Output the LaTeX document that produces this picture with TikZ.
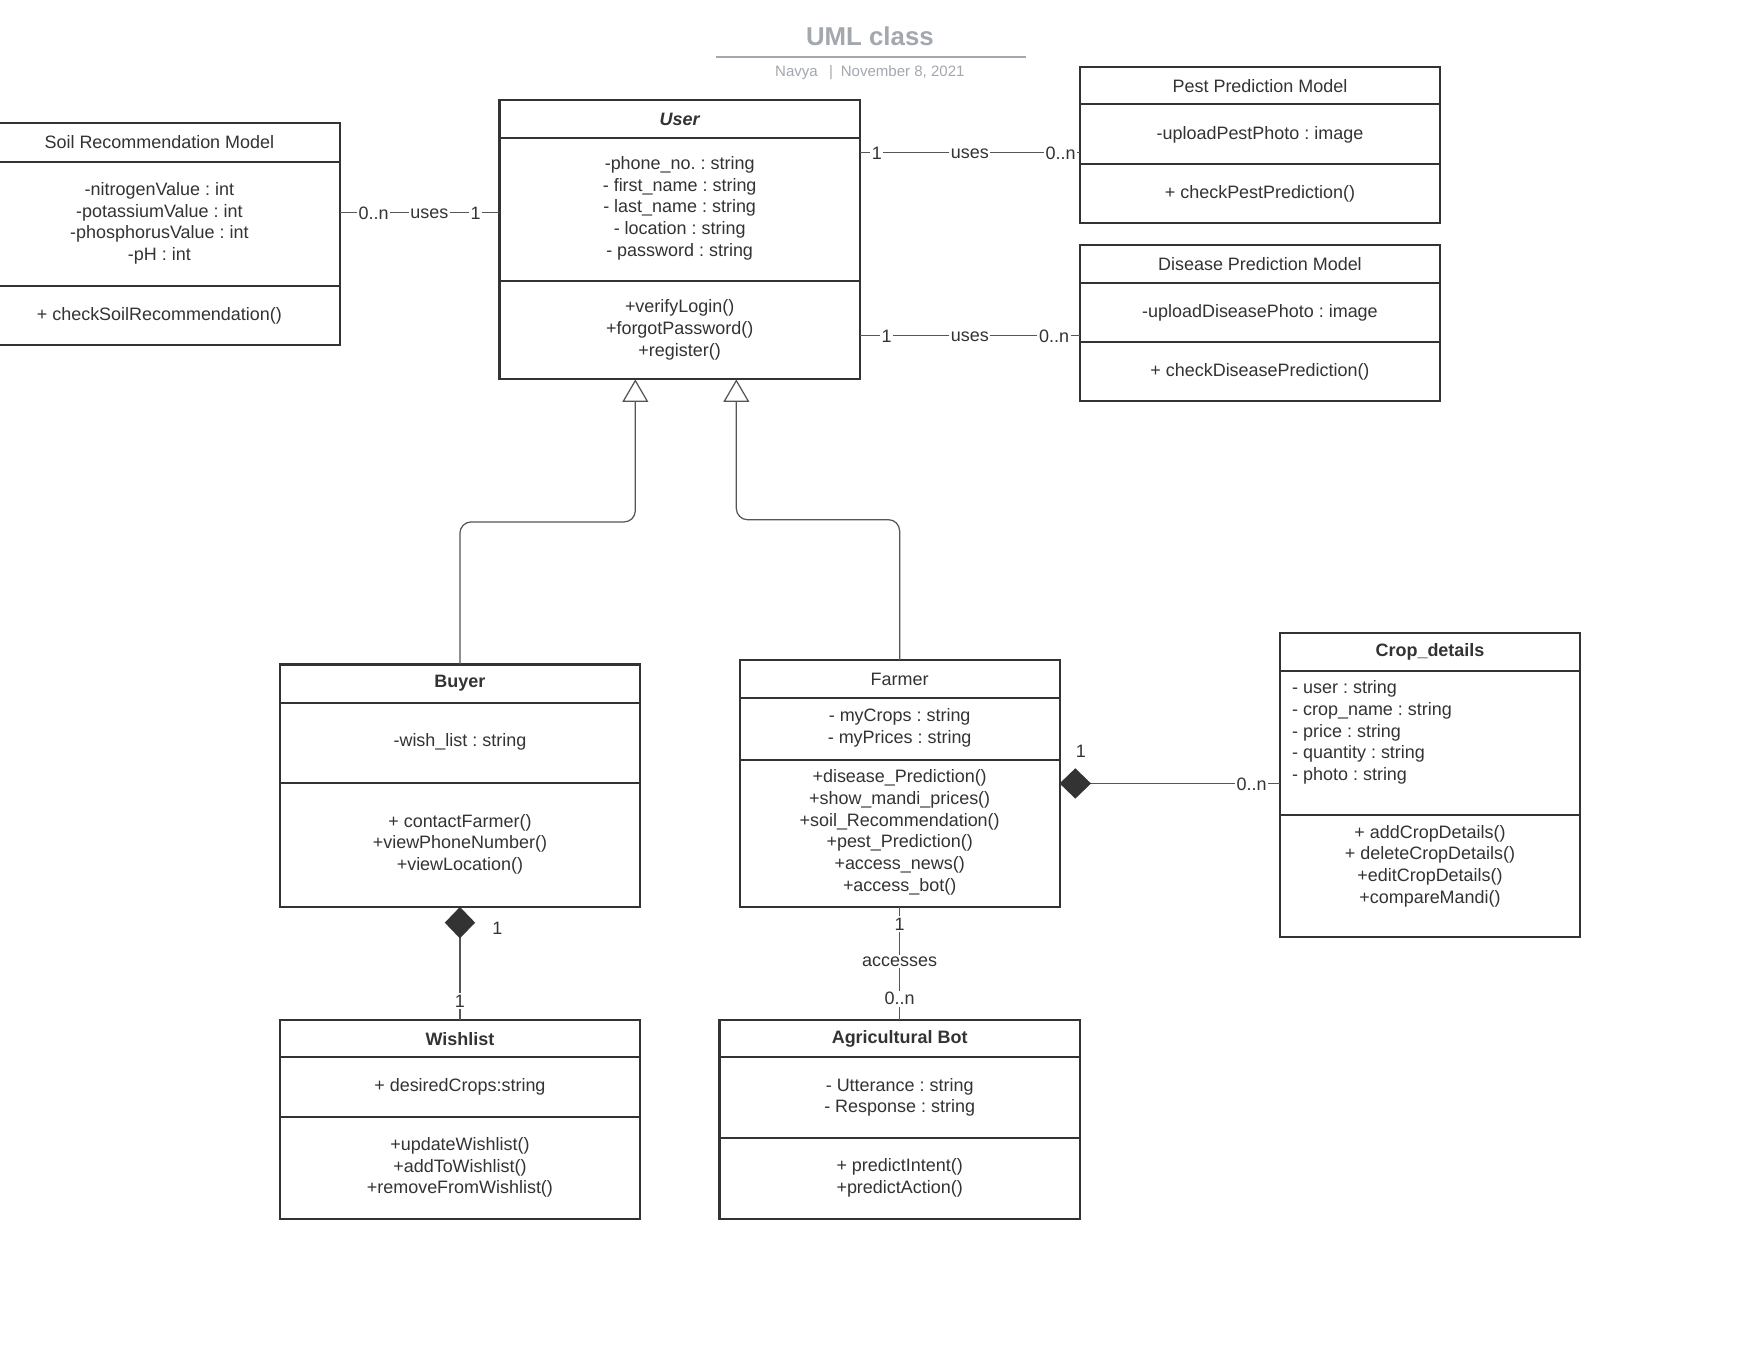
\documentclass[tikz,border=0pt]{standalone}
\usepackage{fontspec}
\setmainfont{Liberation Sans}
\usetikzlibrary{arrows.meta}
\definecolor{ink}{HTML}{333333}
\definecolor{conn}{HTML}{555555}
\definecolor{ttl}{HTML}{A3A7AE}
\frenchspacing
\tikzset{
  cls/.style={draw=ink, line width=1.8pt, rectangle, inner sep=0pt, outer sep=0pt},
  divider/.style={draw=ink, line width=1.8pt},
  txt/.style={inner sep=0pt, text=ink, align=center, yshift=-2pt, font=\fontsize{16}{19.3}\selectfont},
  txtl/.style={inner sep=0pt, text=ink, align=left, anchor=west, yshift=-2pt, font=\fontsize{16}{19.3}\selectfont},
  lbl/.style={inner sep=1.5pt, fill=white, text=ink, font=\fontsize{16}{19.3}\selectfont},
  hlbl/.style={lbl, yshift=-1pt},
  link/.style={draw=conn, line width=1.1pt},
  genl/.style={link, rounded corners=10pt, -{Triangle[open, length=20pt, width=23pt, line width=1.1pt]}},
  compl/.style={link, {Diamond[length=28pt, width=27pt, fill=ink, color=ink]}-},
}
\begin{document}
\begin{tikzpicture}[x=1pt, y=-1pt]
\useasboundingbox (0,0) rectangle (1568,1211.6);
\fill[white] (0,0) rectangle (1568,1211.6);

% Title
\node[inner sep=0pt, text=ttl, font=\fontsize{23}{27}\selectfont\bfseries] (title) at (775,32.5) {UML class};
\draw[ttl, line width=1.6pt] (638,50.5) coordinate (tl1) -- (914,50.5) coordinate (tl2);
\node[inner sep=0pt, text=ttl, font=\fontsize{13.4}{16}\selectfont] (subtitle) at (775,64.5) {Navya\hspace{10pt}|\hspace{7pt}November 8, 2021};

% Boxes
\node[cls, minimum width=322pt, minimum height=197pt] (soil) at (142,208.5) {};
\node[cls, minimum width=321pt, minimum height=249pt] (user) at (605.5,213.5) {};
\node[cls, minimum width=321pt, minimum height=139pt] (pest) at (1122.5,129.5) {};
\node[cls, minimum width=321pt, minimum height=139pt] (disease) at (1122.5,287.5) {};
\node[cls, minimum width=320.5pt, minimum height=216pt] (buyer) at (409.75,700) {};
\node[cls, minimum width=285pt, minimum height=220pt] (farmer) at (801.5,698) {};
\node[cls, minimum width=268pt, minimum height=271pt] (crop) at (1274,699.5) {};
\node[cls, minimum width=320.5pt, minimum height=177pt] (wish) at (409.75,997.5) {};
\node[cls, minimum width=321pt, minimum height=177pt] (bot) at (801.5,997.5) {};

% Dividers
\foreach \b/\ya/\yb in {soil/144/255, user/123/250, pest/93/146, disease/252/305,
  buyer/626/698, farmer/622/677, crop/598/726, wish/942/995, bot/942/1014}{
  \draw[divider] (\b.west |- 0,\ya) -- (\b.east |- 0,\ya);
  \draw[divider] (\b.west |- 0,\yb) -- (\b.east |- 0,\yb);
}

% Soil Recommendation Model
\node[txt] (soilH) at (142,125) {Soil Recommendation Model};
\node[txt] (soilA) at (142,197) {-nitrogenValue : int\\-potassiumValue : int\\-phosphorusValue : int\\-pH : int};
\node[txt] (soilM) at (142,279) {+ checkSoilRecommendation()};

% User
\node[txt, font=\fontsize{16}{19.3}\selectfont\bfseries\itshape] (userH) at (605.5,104) {User};
\node[txt] (userA) at (605.5,183.5) {-phone\_no. : string\\- first\_name : string\\- last\_name : string\\- location : string\\- password : string};
\node[txt] (userM) at (605.5,292) {+verifyLogin()\\+forgotPassword()\\+register()};

% Pest
\node[txt] (pestH) at (1122.5,75) {Pest Prediction Model};
\node[txt] (pestA) at (1122.5,118) {-uploadPestPhoto : image};
\node[txt] (pestM) at (1122.5,171) {+ checkPestPrediction()};

% Disease
\node[txt] (disH) at (1122.5,233) {Disease Prediction Model};
\node[txt] (disA) at (1122.5,277) {-uploadDiseasePhoto : image};
\node[txt] (disM) at (1122.5,329) {+ checkDiseasePrediction()};

% Buyer
\node[txt, font=\fontsize{16}{19.3}\selectfont\bfseries] (buyerH) at (409.75,606.5) {Buyer};
\node[txt] (buyerA) at (409.75,659) {-wish\_list : string};
\node[txt] (buyerM) at (409.75,750) {+ contactFarmer()\\+viewPhoneNumber()\\+viewLocation()};

% Farmer
\node[txt] (farmerH) at (801.5,603) {Farmer};
\node[txt] (farmerA) at (801.5,646.5) {- myCrops : string\\- myPrices : string};
\node[txt] (farmerM) at (801.5,739.5) {+disease\_Prediction()\\+show\_mandi\_prices()\\+soil\_Recommendation()\\+pest\_Prediction()\\+access\_news()\\+access\_bot()};

% Crop details
\node[txt, font=\fontsize{16}{19.3}\selectfont\bfseries] (cropH) at (1274,578.5) {Crop\_details};
\node[txtl] (cropA) at (1151,650.5) {- user : string\\- crop\_name : string\\- price : string\\- quantity : string\\- photo : string};
\node[txt] (cropM) at (1274,769.5) {+ addCropDetails()\\+ deleteCropDetails()\\+editCropDetails()\\+compareMandi()};

% Wishlist
\node[txt, font=\fontsize{16}{19.3}\selectfont\bfseries] (wishH) at (409.75,923.5) {Wishlist};
\node[txt] (wishA) at (409.75,966) {+ desiredCrops:string};
\node[txt] (wishM) at (409.75,1038) {+updateWishlist()\\+addToWishlist()\\+removeFromWishlist()};

% Agricultural Bot
\node[txt, font=\fontsize{16}{19.3}\selectfont\bfseries] (botH) at (801.5,923.5) {Agricultural Bot};
\node[txt] (botA) at (801.5,975.5) {- Utterance : string\\- Response : string};
\node[txt] (botM) at (801.5,1047.5) {+ predictIntent()\\+predictAction()};

% Associations
\draw[link] (soil.east |- 0,189) -- (user.west |- 0,189)
  node[hlbl, pos=0.21] {0..n} node[hlbl, pos=0.56] {uses} node[hlbl, pos=0.85] {1};
\draw[link] (user.east |- 0,136) -- (pest.west |- 0,136)
  node[hlbl, pos=0.077] {1} node[hlbl, pos=0.5] {uses} node[hlbl, pos=0.913] {0..n};
\draw[link] (user.east |- 0,299) -- (disease.west |- 0,299)
  node[hlbl, pos=0.122] {1} node[hlbl, pos=0.5] {uses} node[hlbl, pos=0.883] {0..n};

% Generalizations
\draw[genl] (buyer.north) |- (566,465) -- (user.south -| 566,0);
\draw[genl] (farmer.north) |- (656,463) -- (user.south -| 656,0);

% Compositions
\draw[compl] (farmer.east |- 0,698) -- (crop.west |- 0,698)
  node[hlbl, pos=0.873] {0..n};
\node[txt] (fc1) at (963,667) {1};
\draw[compl] (buyer.south) -- (wish.north)
  node[lbl, pos=0.83] {1};
\node[txt] (bw1) at (443,825) {1};

% Farmer - Bot
\draw[link] (farmer.south) -- (bot.north)
  node[lbl, pos=0.15] {1} node[lbl, pos=0.48] {accesses} node[lbl, pos=0.81] {0..n};
\end{tikzpicture}
\end{document}
